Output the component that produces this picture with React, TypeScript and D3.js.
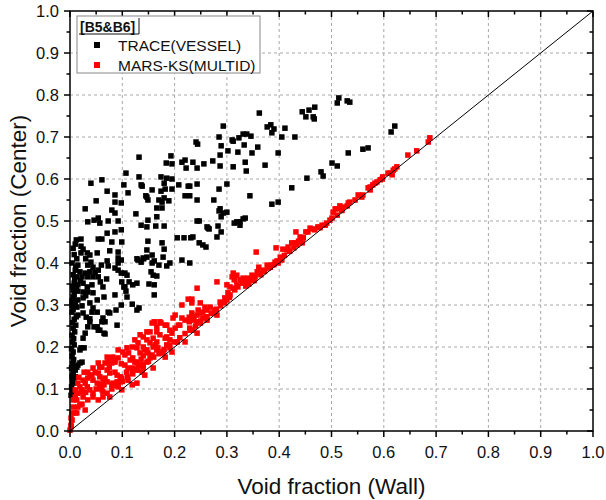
import React from 'react';
import * as d3 from 'd3';

// void fraction (Wall, Center) pairs
const traceVessel: [number, number][] = [
  [0.514, 0.793], [0.511, 0.781], [0.530, 0.786], [0.535, 0.783], [0.468, 0.771], [0.457, 0.764],
  [0.444, 0.760], [0.451, 0.748], [0.465, 0.748], [0.467, 0.743], [0.614, 0.712], [0.621, 0.726],
  [0.560, 0.671], [0.570, 0.674], [0.532, 0.662], [0.501, 0.638], [0.511, 0.631], [0.480, 0.617],
  [0.484, 0.607], [0.453, 0.602], [0.424, 0.579], [0.386, 0.540], [0.398, 0.545], [0.362, 0.757],
  [0.411, 0.721], [0.384, 0.729], [0.377, 0.724], [0.390, 0.719], [0.386, 0.710], [0.293, 0.726],
  [0.285, 0.700], [0.241, 0.688], [0.310, 0.693], [0.323, 0.698], [0.331, 0.707], [0.338, 0.707],
  [0.346, 0.702], [0.333, 0.681], [0.405, 0.700], [0.430, 0.700], [0.289, 0.679], [0.302, 0.667],
  [0.287, 0.657], [0.321, 0.664], [0.348, 0.662], [0.359, 0.676], [0.398, 0.662], [0.235, 0.640],
  [0.256, 0.636], [0.273, 0.643], [0.243, 0.626], [0.287, 0.631], [0.335, 0.640], [0.373, 0.633],
  [0.337, 0.619], [0.229, 0.583], [0.243, 0.588], [0.300, 0.588], [0.285, 0.576], [0.243, 0.550],
  [0.275, 0.550], [0.344, 0.560], [0.319, 0.498], [0.314, 0.495], [0.264, 0.483], [0.312, 0.629],
  [0.247, 0.500], [0.289, 0.510], [0.285, 0.524], [0.287, 0.529], [0.293, 0.519], [0.300, 0.521],
  [0.325, 0.498], [0.331, 0.505], [0.335, 0.507], [0.325, 0.490], [0.243, 0.500], [0.262, 0.486],
  [0.266, 0.481], [0.283, 0.488], [0.289, 0.474], [0.281, 0.462], [0.235, 0.462], [0.247, 0.448],
  [0.254, 0.443], [0.260, 0.438], [0.229, 0.400], [0.214, 0.407], [0.312, 0.690], [0.244, 0.683],
  [0.132, 0.652], [0.193, 0.655], [0.184, 0.638], [0.195, 0.636], [0.214, 0.640], [0.220, 0.645],
  [0.222, 0.626], [0.107, 0.614], [0.174, 0.605], [0.195, 0.600], [0.040, 0.590], [0.061, 0.598],
  [0.103, 0.586], [0.138, 0.583], [0.208, 0.586], [0.226, 0.583], [0.071, 0.571], [0.111, 0.567],
  [0.157, 0.574], [0.174, 0.571], [0.182, 0.576], [0.195, 0.576], [0.086, 0.562], [0.145, 0.560],
  [0.149, 0.550], [0.180, 0.555], [0.220, 0.560], [0.229, 0.560], [0.050, 0.548], [0.086, 0.545],
  [0.098, 0.543], [0.176, 0.545], [0.189, 0.548], [0.132, 0.605], [0.136, 0.586], [0.147, 0.557],
  [0.166, 0.531], [0.170, 0.550], [0.185, 0.602], [0.180, 0.590],
  [0.029, 0.529], [0.080, 0.526], [0.086, 0.519], [0.054, 0.507], [0.057, 0.495], [0.046, 0.502],
  [0.034, 0.498], [0.073, 0.500], [0.092, 0.500], [0.126, 0.517], [0.149, 0.502], [0.166, 0.510],
  [0.176, 0.531], [0.164, 0.488], [0.180, 0.488], [0.147, 0.486], [0.136, 0.490], [0.205, 0.460],
  [0.218, 0.460], [0.231, 0.460], [0.071, 0.471], [0.086, 0.474], [0.098, 0.479], [0.054, 0.457],
  [0.061, 0.457], [0.021, 0.457], [0.080, 0.450], [0.099, 0.450], [0.149, 0.452], [0.176, 0.448],
  [0.180, 0.433], [0.076, 0.429], [0.025, 0.433], [0.033, 0.424], [0.021, 0.424], [0.038, 0.419],
  [0.052, 0.424], [0.092, 0.426], [0.092, 0.412], [0.147, 0.431], [0.130, 0.407], [0.136, 0.402],
  [0.141, 0.410], [0.157, 0.419], [0.161, 0.405], [0.013, 0.410], [0.015, 0.395], [0.034, 0.395],
  [0.044, 0.390], [0.054, 0.383], [0.071, 0.405], [0.073, 0.393], [0.092, 0.400], [0.092, 0.383],
  [0.098, 0.376], [0.170, 0.395], [0.010, 0.383], [0.019, 0.379], [0.029, 0.376], [0.038, 0.379],
  [0.013, 0.367], [0.023, 0.367], [0.034, 0.367], [0.044, 0.367], [0.054, 0.367], [0.105, 0.376],
  [0.155, 0.379], [0.159, 0.371], [0.008, 0.352], [0.015, 0.348], [0.025, 0.352], [0.033, 0.343],
  [0.042, 0.348], [0.063, 0.343], [0.099, 0.355], [0.103, 0.343], [0.107, 0.333], [0.120, 0.348],
  [0.128, 0.352], [0.006, 0.336], [0.015, 0.333], [0.025, 0.331], [0.034, 0.331], [0.044, 0.329],
  [0.065, 0.319], [0.086, 0.324], [0.161, 0.324], [0.006, 0.319], [0.015, 0.312], [0.025, 0.317],
  [0.052, 0.312], [0.119, 0.302], [0.132, 0.293], [0.004, 0.300], [0.013, 0.295], [0.023, 0.298],
  [0.042, 0.283], [0.052, 0.283], [0.073, 0.283], [0.088, 0.288], [0.004, 0.283], [0.015, 0.276],
  [0.025, 0.281], [0.063, 0.269], [0.021, 0.440], [0.030, 0.410], [0.040, 0.402], [0.060, 0.395],
  [0.048, 0.377], [0.020, 0.358], [0.058, 0.355], [0.070, 0.362], [0.030, 0.322], [0.038, 0.305],
  [0.086, 0.388], [0.098, 0.407], [0.109, 0.371], [0.113, 0.355], [0.105, 0.343], [0.109, 0.319],
  [0.098, 0.300], [0.128, 0.288], [0.076, 0.281], [0.090, 0.252], [0.067, 0.231], [0.057, 0.240],
  [0.052, 0.248], [0.044, 0.293], [0.038, 0.260], [0.034, 0.248], [0.029, 0.233], [0.025, 0.221],
  [0.019, 0.193], [0.023, 0.164], [0.013, 0.152], [0.010, 0.145], [0.008, 0.126], [0.006, 0.114],
  [0.147, 0.414], [0.157, 0.400], [0.166, 0.369], [0.178, 0.414], [0.185, 0.393], [0.191, 0.400],
  [0.161, 0.348], [0.151, 0.350], [0.128, 0.410], [0.140, 0.412],
  [0.031, 0.271], [0.038, 0.267], [0.046, 0.248], [0.054, 0.240], [0.061, 0.260], [0.067, 0.260],
  [0.065, 0.233], [0.021, 0.198], [0.027, 0.198], [0.015, 0.157], [0.019, 0.162], [0.010, 0.129],
  [0.002, 0.085], [0.004, 0.095], [0.003, 0.105], [0.005, 0.118], [0.004, 0.130], [0.006, 0.140],
  [0.003, 0.150], [0.005, 0.160], [0.007, 0.170], [0.004, 0.178], [0.006, 0.188], [0.003, 0.196],
  [0.008, 0.205], [0.005, 0.212], [0.007, 0.220], [0.004, 0.228], [0.009, 0.236], [0.006, 0.245],
  [0.011, 0.252], [0.005, 0.258], [0.008, 0.266], [0.012, 0.272], [0.006, 0.290], [0.010, 0.305],
  [0.004, 0.310], [0.008, 0.325], [0.012, 0.340], [0.005, 0.345], [0.009, 0.360], [0.006, 0.372],
  [0.011, 0.390], [0.004, 0.400], [0.008, 0.420], [0.006, 0.435], [0.010, 0.445], [0.012, 0.455],
];

const marsKs: [number, number][] = [
  [0.688, 0.698], [0.685, 0.688], [0.663, 0.667], [0.646, 0.657], [0.625, 0.629], [0.621, 0.624],
  [0.618, 0.621], [0.612, 0.614], [0.616, 0.610], [0.608, 0.614], [0.598, 0.605], [0.597, 0.600],
  [0.593, 0.598], [0.587, 0.593], [0.583, 0.590], [0.579, 0.586], [0.574, 0.581], [0.570, 0.579],
  [0.560, 0.562], [0.554, 0.560], [0.551, 0.562], [0.545, 0.550], [0.535, 0.545], [0.532, 0.543],
  [0.530, 0.536], [0.522, 0.533], [0.516, 0.536], [0.512, 0.529], [0.507, 0.529], [0.503, 0.521],
  [0.511, 0.514], [0.501, 0.507], [0.497, 0.502], [0.491, 0.495], [0.488, 0.490], [0.482, 0.490],
  [0.474, 0.486], [0.468, 0.479], [0.459, 0.483], [0.455, 0.474], [0.444, 0.448], [0.574, 0.574],
  [0.558, 0.557], [0.520, 0.525], [0.478, 0.484],
  [0.465, 0.481], [0.451, 0.474], [0.432, 0.474], [0.440, 0.462], [0.446, 0.460], [0.424, 0.448],
  [0.430, 0.448], [0.434, 0.443], [0.417, 0.438], [0.415, 0.431], [0.394, 0.436], [0.407, 0.433],
  [0.356, 0.426], [0.402, 0.414], [0.405, 0.407], [0.392, 0.402], [0.398, 0.400], [0.386, 0.395],
  [0.377, 0.395], [0.379, 0.388], [0.361, 0.390], [0.369, 0.383], [0.358, 0.379], [0.363, 0.376],
  [0.348, 0.371], [0.354, 0.367], [0.340, 0.364], [0.344, 0.360], [0.331, 0.364], [0.335, 0.355],
  [0.325, 0.360], [0.329, 0.352], [0.319, 0.371], [0.312, 0.376], [0.310, 0.367], [0.314, 0.360],
  [0.319, 0.348], [0.321, 0.343], [0.312, 0.340], [0.315, 0.336], [0.300, 0.348], [0.306, 0.343],
  [0.302, 0.329], [0.306, 0.324], [0.296, 0.317], [0.300, 0.312], [0.281, 0.355], [0.243, 0.340],
  [0.287, 0.307], [0.268, 0.295], [0.277, 0.288], [0.258, 0.295], [0.262, 0.288], [0.254, 0.283],
  [0.245, 0.288], [0.252, 0.281], [0.243, 0.276], [0.233, 0.314],
  [0.336, 0.345], [0.342, 0.350], [0.352, 0.358], [0.365, 0.372], [0.372, 0.380], [0.383, 0.390],
  [0.390, 0.396], [0.396, 0.405], [0.410, 0.418], [0.420, 0.428], [0.428, 0.436], [0.437, 0.452],
  [0.305, 0.318], [0.296, 0.305], [0.288, 0.298], [0.280, 0.290], [0.270, 0.280], [0.262, 0.272],
  [0.250, 0.262], [0.240, 0.250], [0.230, 0.240], [0.220, 0.232], [0.210, 0.222], [0.200, 0.212],
  [0.190, 0.204], [0.180, 0.194], [0.170, 0.184], [0.160, 0.176], [0.150, 0.166], [0.140, 0.158],
  [0.130, 0.146], [0.120, 0.136], [0.110, 0.128], [0.100, 0.118], [0.090, 0.108], [0.080, 0.100],
  [0.226, 0.314], [0.233, 0.305], [0.214, 0.300], [0.249, 0.305], [0.273, 0.281], [0.281, 0.276],
  [0.233, 0.281], [0.237, 0.271], [0.220, 0.264], [0.228, 0.260], [0.197, 0.269], [0.201, 0.245],
  [0.210, 0.252], [0.243, 0.260], [0.249, 0.257], [0.254, 0.269], [0.262, 0.264], [0.235, 0.240],
  [0.243, 0.233], [0.191, 0.240], [0.182, 0.252], [0.172, 0.260], [0.166, 0.248], [0.157, 0.257],
  [0.134, 0.229], [0.147, 0.236], [0.185, 0.224], [0.191, 0.217], [0.205, 0.212], [0.159, 0.221],
  [0.166, 0.212], [0.147, 0.217], [0.153, 0.210], [0.140, 0.200], [0.147, 0.193], [0.159, 0.200],
  [0.166, 0.193], [0.178, 0.190], [0.185, 0.205], [0.191, 0.198], [0.119, 0.200], [0.128, 0.198],
  [0.109, 0.198], [0.101, 0.188], [0.092, 0.193], [0.082, 0.176], [0.086, 0.169], [0.071, 0.176],
  [0.073, 0.164], [0.115, 0.169], [0.120, 0.174], [0.128, 0.164], [0.134, 0.186], [0.140, 0.179],
  [0.153, 0.174], [0.134, 0.157], [0.140, 0.152], [0.120, 0.150], [0.128, 0.145], [0.054, 0.162],
  [0.057, 0.152], [0.044, 0.150], [0.048, 0.140], [0.034, 0.140], [0.038, 0.133], [0.071, 0.145],
  [0.076, 0.138], [0.090, 0.133], [0.096, 0.129], [0.090, 0.117], [0.092, 0.110], [0.057, 0.129],
  [0.063, 0.121], [0.071, 0.117], [0.044, 0.121], [0.052, 0.114], [0.057, 0.110], [0.025, 0.121],
  [0.029, 0.114], [0.033, 0.105], [0.015, 0.114], [0.019, 0.105], [0.023, 0.098], [0.010, 0.098],
  [0.013, 0.090], [0.010, 0.081], [0.071, 0.090], [0.063, 0.081], [0.034, 0.074], [0.019, 0.062],
  [0.013, 0.043], [0.006, 0.074], [0.006, 0.057], [0.004, 0.043], [0.004, 0.026], [0.002, 0.010],
  [0.025, 0.081], [0.038, 0.098], [0.044, 0.090], [0.057, 0.102], [0.063, 0.093], [0.082, 0.114],
  [0.096, 0.117],
  [0.201, 0.276], [0.214, 0.269], [0.228, 0.271], [0.235, 0.264], [0.207, 0.252], [0.161, 0.260],
  [0.174, 0.257], [0.185, 0.252], [0.229, 0.245], [0.153, 0.236], [0.140, 0.224], [0.166, 0.236],
  [0.172, 0.229], [0.182, 0.221], [0.195, 0.233], [0.220, 0.212], [0.124, 0.217], [0.130, 0.210],
  [0.163, 0.205], [0.168, 0.198], [0.195, 0.188], [0.143, 0.193], [0.149, 0.186], [0.157, 0.181],
  [0.176, 0.186], [0.182, 0.176], [0.105, 0.181], [0.092, 0.174], [0.086, 0.164], [0.076, 0.174],
  [0.080, 0.162], [0.124, 0.164], [0.130, 0.157], [0.147, 0.164], [0.159, 0.150], [0.067, 0.162],
  [0.061, 0.152], [0.105, 0.157], [0.111, 0.150], [0.119, 0.140], [0.138, 0.140], [0.143, 0.133],
  [0.054, 0.138], [0.086, 0.140], [0.099, 0.126], [0.042, 0.133], [0.034, 0.126], [0.067, 0.126],
  [0.080, 0.110], [0.111, 0.121], [0.119, 0.110], [0.128, 0.114], [0.061, 0.098], [0.092, 0.105],
  [0.099, 0.098], [0.023, 0.093], [0.015, 0.090], [0.044, 0.081], [0.076, 0.081], [0.013, 0.074],
  [0.054, 0.074], [0.015, 0.057], [0.023, 0.064], [0.029, 0.050], [0.010, 0.043], [0.002, 0.031],
  [0.002, 0.014], [0.000, 0.002], [0.017, 0.128], [0.027, 0.140], [0.030, 0.092], [0.050, 0.100],
  [0.065, 0.110], [0.075, 0.152], [0.098, 0.160], [0.108, 0.140], [0.112, 0.186], [0.136, 0.171],
];

const majorTicks = [0, 0.1, 0.2, 0.3, 0.4, 0.5, 0.6, 0.7, 0.8, 0.9, 1.0];
const minorTicks = [0.05, 0.15, 0.25, 0.35, 0.45, 0.55, 0.65, 0.75, 0.85, 0.95];
const gridTicks = [0.1, 0.2, 0.3, 0.4, 0.5, 0.6, 0.7, 0.8, 0.9];

const legendTitle = '[B5&B6]';
const seriesNames = ['TRACE(VESSEL)', 'MARS-KS(MULTID)'];
const seriesColors = ['#000000', '#ff0000'];

const App = () => {
  const width = 606;
  const height = 500;
  const left = 70, right = 593, top = 11, bottom = 431;

  const x = d3.scaleLinear().domain([0, 1]).range([left, right]);
  const y = d3.scaleLinear().domain([0, 1]).range([bottom, top]);
  const fmt = d3.format('.1f');
  const font = '"Liberation Sans", Arial, sans-serif';
  const ms = 5.5; // marker size

  const diag = d3.line<number>().x(d => x(d)).y(d => y(d))([0, 1]) || '';

  return (
    <svg width={width} height={height} style={{ position: 'absolute', left: 0, top: 0, background: '#fff' }}
      fontFamily={font}>
      <rect x={0} y={0} width={width} height={height} fill="#fff" />

      {/* grid */}
      {gridTicks.map(t => (
        <g key={'g' + t}>
          <line x1={x(t)} x2={x(t)} y1={top} y2={bottom} stroke="#a8a8a8" strokeWidth={1} strokeDasharray="3,3" />
          <line x1={left} x2={right} y1={y(t)} y2={y(t)} stroke="#a8a8a8" strokeWidth={1} strokeDasharray="3,3" />
        </g>
      ))}

      {/* points */}
      {traceVessel.map((d, i) => (
        <rect key={'b' + i} x={x(d[0]) - ms / 2} y={y(d[1]) - ms / 2} width={ms} height={ms} fill={seriesColors[0]} />
      ))}
      {marsKs.map((d, i) => (
        <rect key={'r' + i} x={x(d[0]) - ms / 2} y={y(d[1]) - ms / 2} width={ms} height={ms} fill={seriesColors[1]} />
      ))}

      <path d={diag} stroke="#000" strokeWidth={1} fill="none" />

      {/* frame */}
      <rect x={left} y={top} width={right - left} height={bottom - top} fill="none" stroke="#000" strokeWidth={1.5} />

      {/* ticks */}
      {majorTicks.map(t => (
        <g key={'t' + t}>
          <line x1={x(t)} x2={x(t)} y1={bottom} y2={bottom + 6} stroke="#000" strokeWidth={1.5} />
          <line x1={x(t)} x2={x(t)} y1={top} y2={top + 6} stroke="#000" strokeWidth={1.5} />
          <line x1={left - 6} x2={left} y1={y(t)} y2={y(t)} stroke="#000" strokeWidth={1.5} />
          <line x1={right - 6} x2={right} y1={y(t)} y2={y(t)} stroke="#000" strokeWidth={1.5} />
          <text x={x(t)} y={bottom + 27} textAnchor="middle" fontSize={16.5} fill="#111">{fmt(t)}</text>
          <text x={left - 11} y={y(t) + 6} textAnchor="end" fontSize={16.5} fill="#111">{fmt(t)}</text>
        </g>
      ))}
      {minorTicks.map(t => (
        <g key={'m' + t}>
          <line x1={x(t)} x2={x(t)} y1={bottom} y2={bottom + 3.5} stroke="#000" strokeWidth={1.5} />
          <line x1={x(t)} x2={x(t)} y1={top} y2={top + 3.5} stroke="#000" strokeWidth={1.5} />
          <line x1={left - 3.5} x2={left} y1={y(t)} y2={y(t)} stroke="#000" strokeWidth={1.5} />
          <line x1={right - 3.5} x2={right} y1={y(t)} y2={y(t)} stroke="#000" strokeWidth={1.5} />
        </g>
      ))}

      {/* axis titles */}
      <text x={(left + right) / 2} y={494} textAnchor="middle" fontSize={22.5} fill="#111">Void fraction (Wall)</text>
      <text transform={`translate(26,${(top + bottom) / 2}) rotate(-90)`} textAnchor="middle" fontSize={22.5} fill="#111">
        Void fraction (Center)
      </text>

      {/* legend */}
      <g>
        <rect x={77} y={16} width={183} height={57} fill="#fff" stroke="#888" strokeWidth={1} />
        <text x={80} y={32} fontSize={14} fontWeight="bold" fill="#111">{legendTitle}</text>
        <line x1={79} x2={139} y1={34} y2={34} stroke="#111" strokeWidth={1} />
        <line x1={139} x2={139} y1={18} y2={34} stroke="#111" strokeWidth={1} />
        {seriesNames.map((name, i) => (
          <g key={name}>
            <rect x={97 - 3} y={45 + i * 20 - 3} width={6} height={6} fill={seriesColors[i]} />
            <text x={118} y={50.5 + i * 20} fontSize={15.5} fill="#111">{name}</text>
          </g>
        ))}
      </g>
    </svg>
  );
};

export default App;
